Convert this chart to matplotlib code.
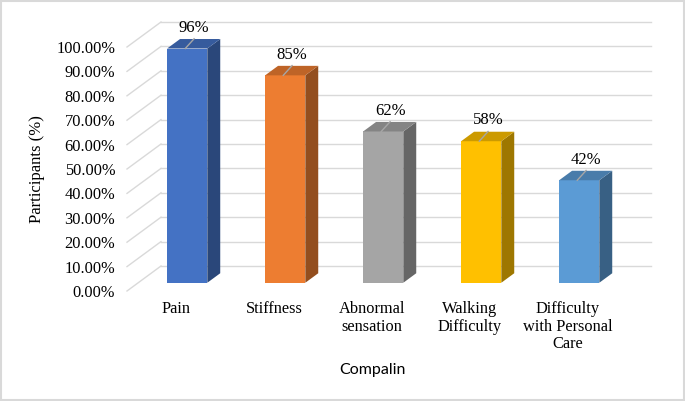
import matplotlib.pyplot as plt
from matplotlib.patches import Polygon, Rectangle
from matplotlib.ticker import PercentFormatter
from matplotlib.colors import to_rgb

# data
categories = ['Pain', 'Stiffness', 'Abnormal\nsensation', 'Walking\nDifficulty',
              'Difficulty\nwith Personal\nCare']
values = [0.96, 0.85, 0.62, 0.58, 0.42]
labels = ['96%', '85%', '62%', '58%', '42%']
colors = ['#4472C4', '#ED7D31', '#A5A5A5', '#FFC000', '#5B9BD5']
yticks = [i / 10 for i in range(11)]

serif = 'Liberation Serif'

fig = plt.figure(figsize=(6.85, 4.01), dpi=100)
# axes placed so the front plane of the 3d box lines up with the reference
ax = fig.add_axes([127 / 685, 110 / 401, 490 / 685, 244 / 401])
ax.set_xlim(-0.5, 4.5)
ax.set_ylim(0, 1)

# depth of the box in data units, bars sit between f0 and f1 of the depth
DX, DY = 34 / 98, 25 / 244
f0, f1 = 0.33, 0.71
w = 0.41

grid_col = '#D9D9D9'
for v in yticks:
    ax.plot([-0.5, -0.5 + DX], [v, v + DY], color=grid_col, lw=1, clip_on=False, zorder=1)
    ax.plot([-0.5 + DX, 4.5 + DX], [v + DY, v + DY], color=grid_col, lw=1, clip_on=False, zorder=1)


def shade(c, k):
    r, g, b = to_rgb(c)
    return (r * k, g * k, b * k)


for i, (v, c, lab) in enumerate(zip(values, colors, labels)):
    x0 = i - w / 2 + f0 * DX
    x1 = i + w / 2 + f0 * DX
    y0 = f0 * DY
    ddx, ddy = (f1 - f0) * DX, (f1 - f0) * DY
    top = v + y0
    front = Rectangle((x0, y0), w, v, facecolor=c, edgecolor='none', zorder=3, clip_on=False)
    side = Polygon([(x1, y0), (x1 + ddx, y0 + ddy), (x1 + ddx, top + ddy), (x1, top)],
                   facecolor=shade(c, 0.62), edgecolor='none', zorder=3, clip_on=False)
    lid = Polygon([(x0, top), (x1, top), (x1 + ddx, top + ddy), (x0 + ddx, top + ddy)],
                  facecolor=shade(c, 0.8), edgecolor='none', zorder=3, clip_on=False)
    ax.add_patch(front)
    ax.add_patch(side)
    ax.add_patch(lid)

    # data label with a short leader line
    lx = i + f0 * DX + 0.07
    ly = top + 0.085
    ax.text(lx, ly, lab, ha='center', va='center', fontsize=12, family=serif,
            zorder=5, clip_on=False)
    ax.plot([lx, i + f0 * DX - 0.02], [ly - 0.045, top], color='#A6A6A6', lw=1,
            zorder=4, clip_on=False)

ax.set_yticks(yticks)
ax.yaxis.set_major_formatter(PercentFormatter(1.0, decimals=2))
ax.set_xticks(range(len(categories)))
ax.set_xticklabels(categories, linespacing=1.12)
ax.tick_params(axis='both', length=0, labelsize=11.8)
ax.tick_params(axis='y', pad=8.5)
ax.tick_params(axis='x', pad=7.5)
for t in ax.get_xticklabels() + ax.get_yticklabels():
    t.set_family(serif)
for s in ax.spines.values():
    s.set_visible(False)

ax.set_ylabel('Participants (%)', family=serif, fontsize=12)
ax.yaxis.set_label_coords(-0.167, 0.5)
ax.set_xlabel('Compalin', family='Lato', fontsize=11.5)
ax.xaxis.set_label_coords(0.5, -0.295)

# light outer frame
fig.patches.append(Rectangle((0.002, 0.003), 0.996, 0.994, transform=fig.transFigure,
                             fill=False, edgecolor='#D9D9D9', lw=1.5))

fig.savefig('out.png', dpi=100)
